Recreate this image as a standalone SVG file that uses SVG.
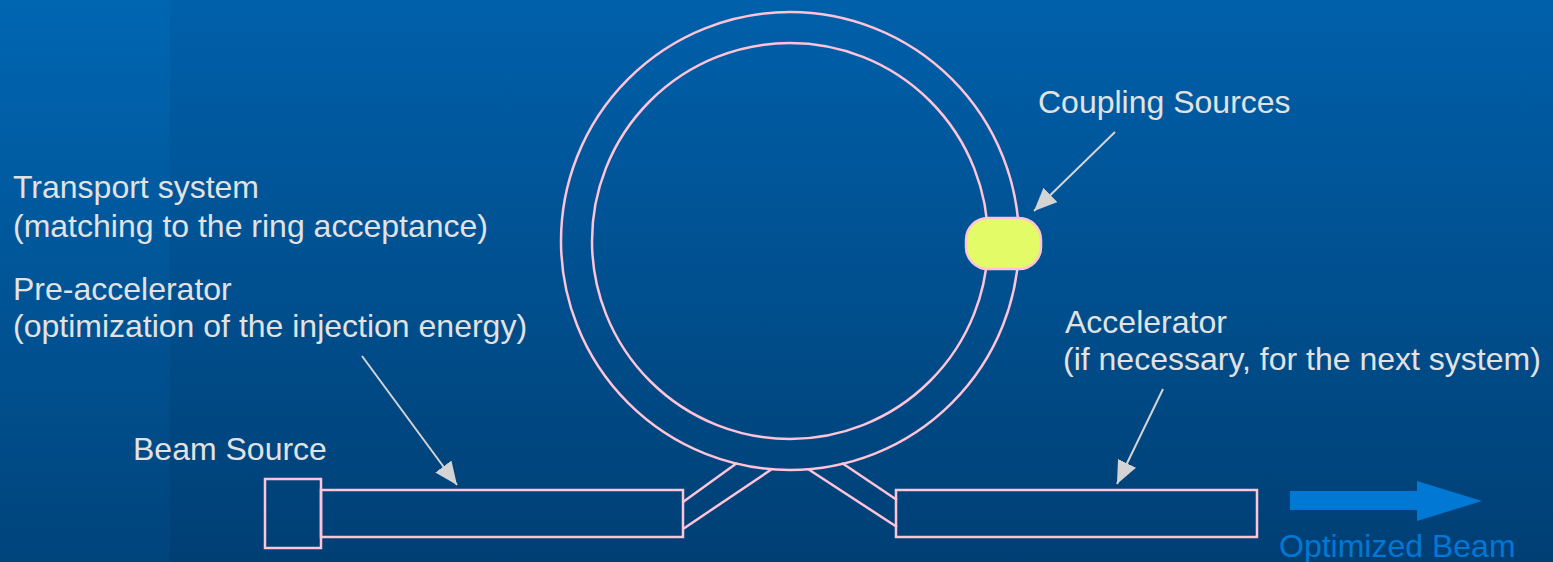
<svg xmlns="http://www.w3.org/2000/svg" width="1553" height="562" viewBox="0 0 1553 562">
<defs>
<linearGradient id="bg" x1="0" y1="0" x2="0" y2="1">
<stop offset="0" stop-color="#0060aa"/>
<stop offset="1" stop-color="#003f74"/>
</linearGradient>
<linearGradient id="bgl" x1="0" y1="0" x2="0" y2="1">
<stop offset="0" stop-color="#0066b2"/>
<stop offset="1" stop-color="#00447c"/>
</linearGradient>
<marker id="ah" viewBox="0 0 10 10" refX="10" refY="5" markerWidth="23" markerHeight="20" orient="auto" markerUnits="userSpaceOnUse" preserveAspectRatio="none">
<path d="M0,0 L10,5 L0,10 z" fill="#d4d4d4"/>
</marker>
</defs>
<style>
.t{font-family:"Liberation Sans",Arial,sans-serif;font-size:32px;fill:#e2e2e2}
.p{fill:none;stroke:#ffc4d8;stroke-width:2.5}
.c{stroke:#d4d4d4;stroke-width:2;fill:none}
</style>
<rect width="1553" height="562" fill="url(#bg)"/>
<rect width="170" height="562" fill="url(#bgl)"/>
<g id="ring">
<circle class="p" cx="790" cy="241" r="229"/>
<circle class="p" cx="790" cy="241" r="198"/>
</g>
<g id="beam-source"><rect class="p" x="265" y="479" width="56" height="69"/></g>
<g id="pre-accelerator"><rect class="p" x="321" y="490" width="362" height="47"/></g>
<g id="accelerator"><rect class="p" x="896" y="490" width="361" height="47"/></g>
<g id="transport">
<line class="p" x1="737" y1="463" x2="683" y2="502"/>
<line class="p" x1="772" y1="469" x2="683" y2="529"/>
<line class="p" x1="808" y1="469" x2="897" y2="527"/>
<line class="p" x1="842" y1="463" x2="897" y2="500"/>
</g>
<g id="coupling"><rect x="966" y="218" width="75" height="51" rx="22" fill="#e3fb66" stroke="#ffc4d8" stroke-width="2.5"/></g>
<g id="connectors">
<line class="c" x1="1115" y1="132" x2="1034" y2="211" marker-end="url(#ah)"/>
<line class="c" x1="362" y1="356" x2="457" y2="485" marker-end="url(#ah)"/>
<line class="c" x1="1163" y1="389" x2="1117" y2="484" marker-end="url(#ah)"/>
</g>
<g id="optimized-beam"><path d="M1290,491 H1417 V481 L1482,501 L1417,521 V510 H1290 Z" fill="#0078d4"/></g>
<g id="labels">
<text class="t" x="13" y="198">Transport system</text>
<text class="t" x="13" y="237">(matching to the ring acceptance)</text>
<text class="t" x="13" y="300">Pre-accelerator</text>
<text class="t" x="13" y="337">(optimization of the injection energy)</text>
<text class="t" x="133" y="460">Beam Source</text>
<text class="t" x="1038" y="113">Coupling Sources</text>
<text class="t" x="1065" y="333">Accelerator</text>
<text class="t" x="1063" y="370">(if necessary, for the next system)</text>
<text class="t" x="1279" y="557" style="fill:#0078d4">Optimized Beam</text>
</g>
</svg>
